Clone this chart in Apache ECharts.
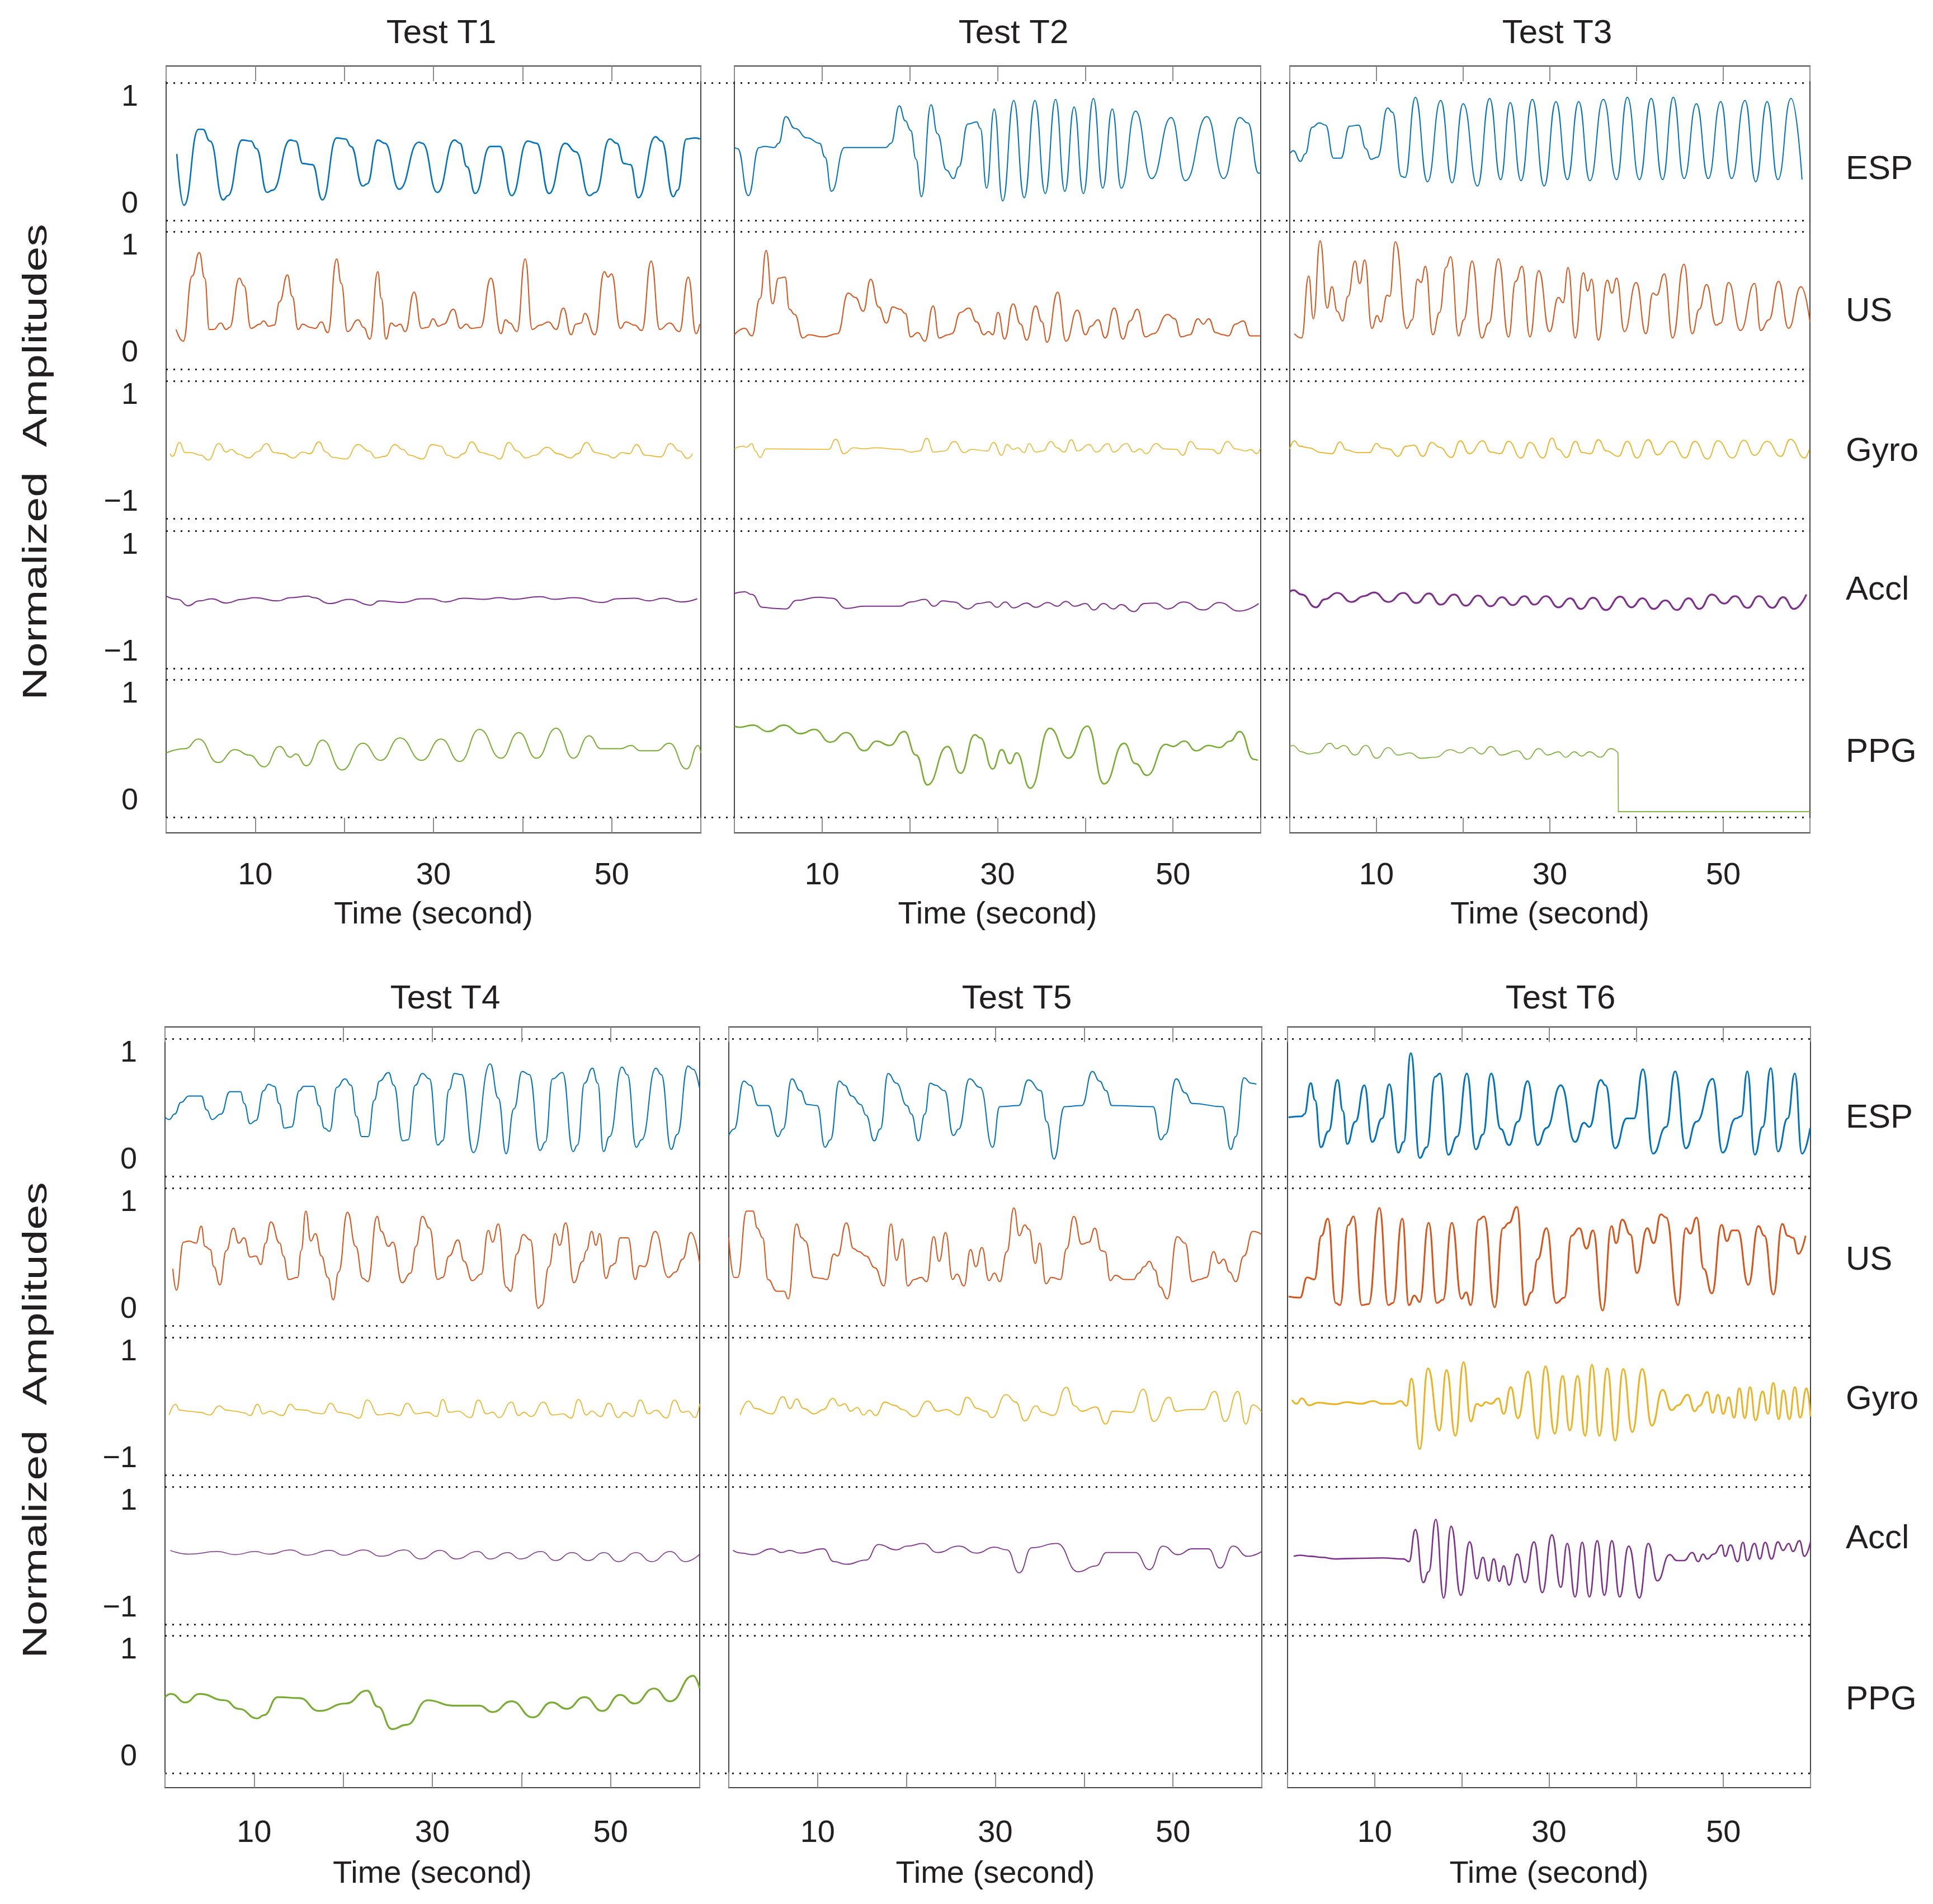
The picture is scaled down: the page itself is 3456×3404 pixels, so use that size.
<!DOCTYPE html>
<html>
<head>
<meta charset="utf-8">
<script src="https://cdn.jsdelivr.net/npm/echarts@6/dist/echarts.min.js"></script>
<style>
  html, body { margin: 0; padding: 0; background: #fff; }
  #chart { width: 3456px; height: 3404px; }
</style>
</head>
<body>
<div id="chart"></div>
<script>
// ---- data: [time (s), normalized amplitude] ----
const testNames = ['Test T1', 'Test T2', 'Test T3', 'Test T4', 'Test T5', 'Test T6'];
const signalNames = ['ESP', 'US', 'Gyro', 'Accl', 'PPG'];
const xTickLabels = [10, 30, 50];
const yTickLabels = [[0, 1], [0, 1], [-1, 1], [-1, 1], [0, 1]];

const T1_ESP = [[1.2,0.47],[2.0,-0.01],[3.64,0.70],[4.12,0.70],[4.93,0.59],[6.41,0.04],[6.93,0.08],[8.53,0.60],[9.53,0.59],[10.13,0.52],[11.33,0.11],[11.93,0.13],[13.94,0.60],[14.54,0.59],[15.34,0.38],[16.42,0.37],[17.54,0.04],[19.14,0.62],[20.14,0.61],[20.74,0.54],[22.07,0.17],[22.55,0.19],[23.75,0.60],[24.55,0.57],[26.15,0.14],[28.35,0.58],[28.75,0.57],[30.44,0.11],[32.36,0.60],[32.96,0.57],[33.76,0.35],[34.68,0.10],[36.36,0.54],[37.45,0.54],[38.77,0.08],[40.57,0.59],[41.57,0.57],[42.97,0.10],[44.77,0.57],[45.98,0.49],[47.5,0.08],[48.18,0.11],[49.78,0.61],[50.58,0.57],[51.38,0.38],[52.1,0.37],[52.98,0.06],[54.91,0.63],[55.59,0.59],[56.91,0.07],[57.39,0.13],[58.39,0.61],[59.39,0.62],[59.91,0.61]];
const T1_US = [[1.12,0.22],[1.92,0.11],[2.92,0.72],[3.72,0.94],[4.33,0.70],[4.85,0.22],[5.33,0.22],[6.13,0.28],[6.73,0.22],[7.13,0.24],[8.21,0.70],[8.73,0.63],[9.53,0.23],[10.53,0.27],[10.93,0.30],[11.53,0.25],[12.13,0.26],[12.74,0.48],[13.62,0.73],[14.14,0.53],[14.82,0.22],[15.34,0.27],[16.14,0.24],[16.74,0.23],[17.42,0.29],[18.14,0.19],[19.14,0.88],[19.66,0.65],[20.34,0.20],[21.55,0.31],[22.15,0.24],[22.87,0.13],[23.75,0.76],[24.15,0.51],[24.67,0.13],[25.27,0.28],[25.75,0.25],[26.27,0.27],[26.83,0.20],[27.83,0.57],[28.67,0.23],[29.36,0.24],[29.96,0.32],[30.56,0.25],[31.16,0.27],[32.24,0.41],[33.04,0.23],[33.68,0.27],[34.24,0.23],[35.28,0.24],[36.44,0.70],[37.57,0.18],[38.09,0.31],[38.57,0.28],[39.37,0.20],[40.29,0.88],[41.09,0.22],[41.97,0.26],[42.89,0.29],[43.77,0.22],[44.57,0.42],[45.45,0.17],[45.98,0.27],[46.58,0.28],[46.98,0.37],[48.1,0.17],[49.18,0.76],[49.58,0.71],[49.98,0.74],[50.98,0.23],[51.58,0.29],[52.58,0.26],[53.38,0.21],[54.43,0.86],[55.39,0.22],[56.51,0.28],[57.59,0.20],[58.59,0.71],[59.47,0.18],[59.87,0.27]];
const T1_GYRO = [[0.44,-0.09],[0.72,-0.14],[1.52,0.12],[2.12,-0.07],[2.72,-0.07],[3.92,-0.12],[4.73,-0.21],[5.93,0.10],[6.73,-0.06],[7.33,-0.01],[8.13,-0.10],[9.25,-0.17],[10.33,-0.05],[11.25,0.10],[12.13,-0.07],[13.14,-0.09],[14.22,-0.17],[15.34,-0.06],[16.14,-0.09],[17.14,0.13],[17.94,-0.06],[18.74,-0.16],[20.14,-0.19],[21.55,0.08],[22.75,-0.04],[23.55,-0.17],[24.55,-0.14],[25.67,0.08],[26.55,-0.01],[27.35,-0.12],[28.75,-0.19],[29.84,0.08],[30.84,0.05],[31.56,-0.12],[32.56,-0.17],[33.36,-0.09],[34.28,0.13],[35.36,-0.07],[36.56,-0.12],[37.45,-0.19],[38.45,0.12],[39.37,-0.04],[40.37,-0.17],[41.37,-0.12],[42.77,0.03],[43.97,-0.09],[45.38,-0.17],[46.18,-0.09],[47.18,0.12],[48.18,-0.07],[49.38,-0.11],[50.18,-0.17],[51.18,-0.07],[51.98,-0.09],[52.78,0.08],[53.78,-0.12],[55.47,-0.15],[56.59,0.10],[57.59,-0.04],[58.51,-0.18],[59.07,-0.09]];
const T1_ACCL = [[0,0.05],[1.32,-0.01],[2.44,-0.13],[3.72,-0.04],[5.13,0.0],[6.73,-0.08],[8.53,-0.01],[9.93,0.02],[12.54,-0.04],[13.94,0.02],[15.94,0.05],[16.54,0.02],[18.34,-0.09],[20.54,-0.01],[22.95,-0.12],[23.95,-0.04],[26.55,-0.07],[28.55,0.0],[29.76,0.0],[31.36,-0.06],[33.36,0.01],[35.76,-0.01],[37.36,0.02],[38.97,-0.01],[41.97,0.04],[43.57,-0.01],[45.78,0.02],[48.98,-0.07],[50.58,0.0],[52.58,0.01],[54.19,-0.04],[55.79,0.01],[57.79,-0.06],[59.59,0.0]];
const T1_PPG = [[0,0.45],[2.12,0.49],[3.64,0.58],[5.81,0.36],[7.73,0.48],[9.33,0.43],[11.01,0.32],[12.74,0.51],[13.94,0.41],[14.54,0.44],[15.74,0.33],[17.54,0.57],[19.74,0.29],[22.07,0.54],[24.07,0.38],[26.23,0.59],[28.67,0.38],[30.84,0.58],[32.96,0.37],[35.16,0.67],[37.57,0.40],[39.57,0.64],[41.57,0.40],[43.77,0.68],[45.7,0.40],[47.46,0.61],[48.78,0.49],[50.98,0.49],[52.18,0.52],[53.18,0.47],[54.99,0.47],[56.47,0.54],[58.39,0.30],[59.71,0.52],[60,0.45]];

const T2_ESP = [[0,0.53],[0.37,0.52],[1.59,0.08],[2.81,0.53],[3.42,0.54],[4.56,0.53],[5.04,0.57],[5.86,0.82],[6.88,0.71],[8.3,0.62],[9.72,0.57],[10.33,0.44],[11.07,0.12],[12.57,0.53],[13.18,0.53],[17.25,0.53],[17.86,0.57],[18.8,0.92],[19.49,0.78],[20.1,0.69],[20.71,0.42],[21.32,0.07],[22.42,0.93],[23.15,0.66],[24.17,0.32],[24.98,0.24],[25.59,0.35],[26.61,0.75],[27.62,0.77],[28.03,0.71],[28.76,0.15],[29.62,0.89],[30.59,0.03],[31.85,0.97],[33.04,0.06],[34.26,0.97],[35.44,0.10],[36.62,0.98],[37.67,0.12],[38.73,0.91],[39.79,0.10],[40.93,0.99],[41.99,0.15],[43.08,0.89],[44.1,0.15],[45.73,0.87],[47.56,0.24],[49.8,0.81],[51.42,0.22],[53.87,0.82],[55.78,0.24],[57.61,0.81],[58.54,0.76],[59.76,0.29],[60,0.29]];
const T2_US = [[0,0.17],[1.18,0.23],[1.99,0.16],[2.93,0.51],[3.62,0.96],[4.35,0.46],[5.04,0.70],[5.78,0.71],[6.27,0.41],[6.88,0.36],[7.81,0.14],[8.5,0.17],[10.13,0.15],[11.76,0.18],[12.98,0.56],[13.79,0.52],[14.69,0.39],[15.54,0.69],[16.44,0.43],[17.33,0.28],[18.06,0.43],[18.88,0.41],[19.49,0.37],[20.1,0.15],[20.91,0.19],[21.72,0.11],[22.66,0.44],[23.35,0.14],[24.37,0.17],[24.78,0.18],[25.79,0.38],[26.73,0.42],[27.62,0.29],[28.44,0.17],[28.97,0.20],[29.45,0.17],[30.06,0.38],[30.8,0.13],[31.77,0.46],[32.63,0.27],[33.32,0.12],[34.34,0.44],[35.07,0.29],[35.64,0.10],[36.86,0.57],[37.8,0.11],[39.1,0.40],[40.03,0.17],[40.64,0.25],[41.46,0.31],[42.27,0.14],[43.29,0.42],[44.3,0.13],[45.12,0.30],[45.93,0.41],[46.87,0.15],[47.76,0.18],[49.39,0.36],[50.2,0.32],[50.94,0.15],[51.91,0.17],[52.85,0.32],[53.46,0.27],[54.07,0.32],[54.88,0.19],[55.7,0.17],[56.31,0.16],[57.12,0.27],[58.01,0.30],[58.83,0.16],[59.97,0.16]];
const T2_GYRO = [[0,0.0],[0.98,0.05],[1.38,0.03],[1.99,0.10],[2.4,-0.04],[2.93,-0.16],[3.62,0.0],[4.64,0.0],[10.74,-0.01],[11.55,0.18],[12.49,-0.09],[13.59,0.02],[14.81,0.0],[16.03,0.02],[18.88,-0.01],[20.1,-0.06],[21.11,-0.04],[21.93,0.20],[22.74,-0.06],[23.96,-0.04],[25.06,0.14],[26.2,-0.07],[27.01,-0.01],[28.84,-0.04],[29.54,0.12],[30.47,-0.12],[31.08,0.08],[31.81,-0.01],[32.3,0.02],[33.04,-0.07],[33.6,0.10],[34.34,-0.06],[35.15,-0.04],[36.09,0.14],[36.78,0.02],[37.59,-0.06],[38.41,0.17],[39.14,-0.04],[40.44,0.08],[41.25,-0.06],[42.6,0.10],[43.21,-0.06],[44.71,0.10],[45.53,-0.06],[46.22,0.0],[46.95,-0.09],[48.09,0.10],[48.98,0.0],[50.41,-0.01],[51.1,-0.12],[52.03,0.14],[52.85,0.0],[54.47,-0.01],[55.17,-0.09],[56.22,0.14],[57.12,0.0],[58.34,-0.04],[58.83,-0.01],[59.56,-0.09],[59.97,0.02]];
const T2_ACCL = [[0,0.10],[1.18,0.13],[1.99,0.08],[3.21,-0.16],[4.64,-0.18],[5.86,-0.19],[7.08,-0.03],[9.52,0.03],[11.15,0.01],[12.77,-0.18],[14.81,-0.14],[18.88,-0.14],[20.1,-0.06],[21.73,-0.01],[22.74,-0.14],[23.76,-0.04],[24.98,-0.06],[26.61,-0.19],[27.83,-0.09],[29.05,-0.06],[29.94,-0.16],[30.88,-0.06],[31.81,-0.17],[33.32,-0.08],[34.34,-0.16],[35.76,-0.07],[36.78,-0.14],[37.79,-0.05],[38.81,-0.14],[40.03,-0.09],[40.97,-0.21],[42.07,-0.09],[43.21,-0.19],[44.1,-0.11],[45.53,-0.24],[46.75,-0.09],[47.97,-0.08],[49.39,-0.19],[51.22,-0.06],[53.46,-0.21],[55.29,-0.07],[57.53,-0.23],[59.76,-0.09]];
const T2_PPG = [[0,0.70],[0.57,0.69],[2.12,0.71],[3.82,0.65],[5.65,0.71],[7.57,0.63],[9.11,0.67],[10.94,0.55],[12.77,0.64],[14.81,0.47],[16.23,0.56],[17.66,0.52],[19.37,0.65],[20.71,0.43],[22.01,0.15],[24.29,0.51],[25.79,0.26],[27.42,0.62],[28.03,0.59],[29.45,0.30],[30.47,0.48],[31.41,0.35],[32.18,0.45],[33.73,0.12],[35.96,0.68],[38.08,0.40],[40.24,0.70],[42.15,0.16],[44.43,0.54],[45.73,0.35],[47.03,0.24],[49.19,0.53],[50.0,0.51],[51.3,0.56],[52.64,0.47],[54.07,0.52],[55.29,0.50],[56.51,0.56],[57.61,0.65],[59.23,0.39],[59.68,0.38]];

const T3_ESP = [[0.08,0.48],[0.41,0.50],[1.23,0.40],[1.77,0.47],[2.59,0.72],[3.42,0.76],[4.12,0.74],[5.06,0.43],[5.88,0.43],[6.91,0.73],[7.94,0.74],[8.77,0.52],[9.38,0.42],[10.12,0.44],[11.28,0.90],[11.85,0.86],[12.88,0.26],[13.29,0.25],[14.49,1.00],[15.88,0.21],[17.41,0.97],[18.72,0.20],[20.0,0.94],[21.65,0.17],[23.05,0.99],[24.32,0.23],[25.43,0.95],[26.67,0.22],[27.98,0.98],[29.34,0.17],[30.7,0.96],[32.02,0.23],[33.33,0.96],[34.61,0.22],[36.17,0.98],[37.7,0.23],[38.93,1.00],[40.33,0.23],[41.69,0.99],[43.0,0.23],[44.24,1.00],[45.47,0.24],[46.91,0.94],[48.27,0.24],[49.71,0.96],[50.95,0.24],[52.51,0.97],[53.74,0.21],[55.06,0.96],[56.3,0.23],[57.82,0.99],[59.09,0.23]];
const T3_US = [[0.53,0.18],[1.36,0.14],[2.18,0.72],[2.72,0.32],[3.5,1.05],[4.32,0.42],[4.86,0.62],[5.47,0.39],[6.09,0.30],[6.71,0.53],[7.53,0.86],[8.07,0.65],[8.64,0.87],[9.47,0.23],[10.08,0.35],[10.49,0.29],[11.23,0.54],[11.52,0.53],[12.18,1.04],[13.5,0.23],[14.12,0.31],[14.73,0.69],[15.14,0.66],[15.64,0.81],[16.5,0.17],[17.28,0.38],[18.02,0.80],[18.56,0.90],[19.47,0.16],[20.08,0.31],[21.03,0.86],[22.14,0.14],[22.96,0.28],[24.07,0.88],[25.23,0.15],[26.05,0.67],[26.79,0.81],[27.7,0.15],[28.72,0.77],[29.96,0.20],[30.99,0.52],[31.52,0.47],[32.1,0.80],[32.92,0.14],[33.87,0.75],[34.36,0.58],[34.81,0.69],[35.6,0.12],[36.63,0.68],[37.16,0.56],[37.7,0.70],[38.6,0.20],[39.96,0.66],[41.07,0.18],[41.89,0.56],[42.3,0.54],[43.21,0.74],[44.16,0.14],[45.47,0.83],[46.42,0.18],[47.24,0.41],[48.07,0.64],[49.18,0.26],[49.71,0.28],[50.62,0.66],[51.98,0.21],[53.62,0.65],[54.32,0.21],[55.27,0.31],[56.38,0.67],[57.53,0.23],[58.97,0.62],[60,0.29]];
const T3_GYRO = [[0,0.0],[0.53,0.15],[1.15,0.05],[2.18,0.02],[3.62,-0.07],[4.86,-0.09],[5.8,0.13],[6.5,-0.02],[7.74,-0.07],[9.18,-0.07],[10.0,0.10],[10.62,0.02],[11.44,0.0],[12.47,-0.14],[13.42,0.05],[14.32,0.07],[15.35,-0.14],[16.38,0.12],[17.28,0.03],[18.64,-0.16],[19.67,0.15],[20.7,-0.09],[22.26,0.15],[23.17,-0.06],[24.28,-0.09],[25.23,0.14],[26.67,-0.17],[27.7,0.12],[29.22,-0.17],[30.25,0.20],[30.99,-0.01],[31.93,-0.16],[32.96,0.14],[33.74,-0.07],[34.69,-0.09],[35.6,0.17],[36.54,-0.04],[37.9,-0.14],[38.93,0.14],[40.04,-0.17],[41.36,0.17],[42.39,-0.11],[44.07,0.14],[45.6,-0.17],[46.71,0.14],[48.19,-0.19],[49.38,0.15],[51.07,-0.17],[52.39,0.16],[53.62,-0.12],[55.06,0.14],[56.63,-0.14],[57.74,0.18],[59.38,-0.17],[59.92,-0.01]];
const T3_ACCL = [[0,0.13],[0.41,0.16],[1.36,0.08],[3.0,-0.16],[4.03,-0.01],[5.47,0.11],[7.12,-0.06],[8.56,0.05],[9.71,0.12],[11.36,-0.06],[13.09,0.11],[14.61,-0.08],[16.05,0.10],[17.41,-0.11],[18.97,0.08],[20.29,-0.13],[21.73,0.06],[23.17,-0.14],[24.49,0.03],[25.72,-0.12],[27.08,0.05],[28.19,-0.11],[29.55,0.05],[30.99,-0.16],[32.35,0.01],[33.58,-0.19],[34.98,0.02],[36.46,-0.21],[38.11,0.04],[39.42,-0.16],[40.66,0.01],[41.98,-0.19],[43.33,-0.03],[44.65,-0.21],[46.01,0.01],[47.24,-0.19],[48.68,0.08],[50.12,-0.09],[51.36,0.05],[52.8,-0.17],[54.12,0.05],[55.68,-0.17],[56.91,0.03],[58.15,-0.19],[59.59,0.08]];
const T3_PPG = [[0,0.51],[0.33,0.52],[1.36,0.46],[2.18,0.44],[3.13,0.45],[4.65,0.54],[5.39,0.49],[6.21,0.52],[7.53,0.43],[8.77,0.52],[10.0,0.40],[11.36,0.50],[12.47,0.43],[13.83,0.45],[15.14,0.40],[16.79,0.41],[18.52,0.48],[19.67,0.45],[20.91,0.50],[22.14,0.44],[23.17,0.51],[24.4,0.43],[26.26,0.47],[27.41,0.39],[28.72,0.49],[29.75,0.43],[30.99,0.46],[31.81,0.41],[32.84,0.46],[33.66,0.42],[34.57,0.46],[35.8,0.41],[37.04,0.49],[37.86,0.45]];
const T3_PPG_TAIL = [[37.86,0.45],[37.9,-0.10],[60,-0.10]];

const T4_ESP = [[0,0.40],[0.48,0.38],[1.08,0.43],[1.8,0.54],[2.68,0.60],[4.08,0.60],[4.68,0.47],[5.28,0.38],[6.28,0.43],[7.28,0.64],[8.48,0.64],[8.88,0.53],[9.56,0.34],[10.2,0.37],[11.08,0.65],[11.6,0.71],[12.28,0.69],[12.8,0.53],[13.4,0.30],[14.2,0.31],[15.08,0.65],[15.56,0.69],[16.68,0.69],[17.28,0.51],[17.88,0.30],[18.48,0.27],[19.28,0.68],[20.2,0.76],[20.88,0.70],[21.48,0.41],[22.08,0.22],[22.8,0.22],[23.48,0.56],[24.08,0.74],[25.08,0.82],[25.68,0.70],[26.68,0.18],[27.28,0.19],[28.08,0.70],[28.88,0.81],[29.68,0.76],[30.6,0.14],[31.16,0.18],[31.88,0.66],[32.48,0.81],[33.28,0.80],[34.6,0.07],[36.48,0.90],[37.4,0.58],[38.28,0.06],[39.16,0.48],[40.08,0.83],[40.88,0.80],[42.08,0.09],[42.68,0.17],[43.48,0.76],[44.6,0.82],[45.8,0.08],[46.28,0.14],[47.08,0.72],[47.96,0.86],[48.56,0.72],[49.2,0.08],[49.88,0.22],[51.28,0.87],[51.88,0.80],[52.88,0.12],[53.48,0.19],[55.08,0.86],[55.68,0.80],[56.8,0.10],[57.48,0.24],[58.68,0.88],[59.28,0.85],[59.96,0.68]];
const T4_US = [[0.88,0.38],[1.28,0.18],[2.08,0.63],[2.68,0.64],[3.48,0.62],[4.08,0.78],[4.48,0.59],[5.08,0.56],[5.48,0.40],[6.16,0.23],[6.88,0.55],[7.68,0.76],[8.28,0.62],[8.88,0.67],[9.56,0.49],[10.2,0.50],[10.76,0.42],[11.28,0.62],[11.88,0.82],[12.88,0.62],[13.28,0.50],[13.88,0.28],[14.88,0.30],[15.28,0.55],[15.8,0.92],[16.36,0.64],[16.88,0.71],[17.56,0.50],[18.28,0.30],[18.88,0.09],[19.48,0.35],[20.48,0.91],[21.4,0.59],[22.2,0.29],[22.76,0.26],[23.8,0.87],[24.28,0.73],[25.08,0.59],[25.56,0.63],[26.6,0.25],[27.56,0.34],[28.16,0.59],[28.88,0.87],[29.68,0.76],[30.6,0.28],[31.16,0.30],[31.88,0.50],[32.88,0.65],[33.56,0.45],[34.48,0.27],[35.48,0.33],[36.28,0.74],[36.76,0.63],[37.4,0.80],[38.28,0.21],[38.8,0.17],[39.48,0.52],[40.2,0.70],[41.0,0.65],[41.88,0.01],[42.28,0.04],[43.08,0.40],[43.8,0.71],[44.28,0.60],[44.96,0.81],[45.88,0.25],[46.88,0.45],[47.28,0.55],[47.88,0.73],[48.36,0.60],[48.76,0.71],[49.48,0.29],[50.08,0.41],[50.48,0.43],[51.08,0.67],[51.96,0.67],[52.76,0.28],[53.28,0.41],[53.8,0.40],[55.0,0.73],[56.48,0.30],[57.28,0.35],[58.08,0.47],[59.0,0.72],[60,0.43]];
const T4_GYRO = [[0.48,-0.18],[1.16,0.02],[1.68,-0.09],[2.68,-0.11],[3.88,-0.13],[5.0,-0.18],[6.08,-0.01],[6.88,-0.09],[7.88,-0.11],[8.88,-0.14],[9.56,-0.19],[10.4,0.02],[11.0,-0.16],[11.8,-0.11],[13.16,-0.19],[14.08,0.02],[14.76,-0.08],[15.88,-0.09],[16.68,-0.14],[17.68,-0.16],[18.6,0.04],[19.48,-0.13],[20.48,-0.16],[21.8,-0.24],[22.68,0.10],[23.96,-0.18],[25.28,-0.15],[26.28,-0.19],[27.16,0.04],[28.2,-0.16],[29.48,-0.13],[30.48,-0.21],[31.16,0.11],[31.88,-0.13],[32.88,-0.11],[34.28,-0.23],[35.16,0.10],[36.08,-0.16],[36.76,-0.13],[37.48,-0.23],[38.88,0.06],[39.68,-0.19],[40.28,-0.13],[41.08,-0.21],[42.48,0.06],[43.48,-0.18],[44.68,-0.16],[45.56,-0.24],[46.4,0.11],[47.28,-0.18],[47.88,-0.11],[48.88,-0.21],[49.8,0.04],[50.88,-0.23],[51.56,-0.13],[52.48,-0.21],[53.32,0.10],[54.28,-0.16],[55.08,-0.09],[56.28,-0.24],[57.16,0.10],[58.08,-0.13],[58.68,-0.11],[59.48,-0.23],[60,0.03]];
const T4_ACCL = [[0.6,0.08],[2.68,0.01],[5.88,0.06],[7.88,0.0],[10.08,0.06],[11.68,0.01],[14.08,0.09],[15.88,-0.01],[18.48,0.08],[20.08,-0.01],[22.28,0.09],[24.28,-0.03],[26.88,0.09],[28.68,-0.08],[30.88,0.08],[32.68,-0.08],[35.08,0.06],[36.48,-0.08],[38.48,0.04],[39.88,-0.08],[42.2,0.06],[43.8,-0.11],[45.68,0.04],[47.48,-0.11],[49.28,0.04],[50.88,-0.13],[52.88,0.04],[54.6,-0.13],[56.68,0.06],[58.4,-0.13],[60,0.01]];
const T4_PPG = [[0,0.56],[0.68,0.59],[2.28,0.51],[3.88,0.59],[6.68,0.53],[8.28,0.45],[10.36,0.36],[11.08,0.39],[12.68,0.56],[15.08,0.55],[17.28,0.43],[20.28,0.50],[22.68,0.62],[23.88,0.47],[25.48,0.26],[27.08,0.30],[29.48,0.53],[32.28,0.48],[35.28,0.48],[36.76,0.42],[38.88,0.52],[41.28,0.37],[43.4,0.51],[45.08,0.45],[47.08,0.56],[49.08,0.43],[51.08,0.58],[52.68,0.50],[54.88,0.64],[56.68,0.52],[59.28,0.76],[60,0.64]];

const T5_ESP = [[0,0.23],[0.6,0.29],[1.69,0.74],[2.41,0.70],[3.33,0.51],[4.41,0.51],[5.54,0.22],[6.1,0.29],[7.1,0.76],[8.03,0.65],[8.83,0.52],[9.95,0.51],[10.83,0.12],[11.44,0.19],[12.44,0.74],[13.04,0.70],[13.84,0.60],[14.85,0.52],[15.45,0.42],[16.37,0.18],[17.05,0.29],[17.94,0.81],[18.86,0.72],[20.06,0.51],[20.55,0.43],[21.35,0.18],[22.07,0.43],[22.67,0.72],[23.27,0.70],[24.28,0.65],[25.28,0.23],[25.88,0.29],[27.09,0.76],[28.29,0.68],[29.7,0.12],[30.5,0.50],[32.62,0.51],[33.71,0.75],[35.11,0.65],[35.79,0.36],[36.6,0.01],[37.8,0.50],[39.73,0.51],[40.93,0.83],[41.73,0.74],[42.46,0.65],[43.14,0.51],[47.75,0.50],[48.64,0.19],[49.16,0.24],[50.36,0.76],[51.36,0.63],[52.17,0.53],[55.58,0.50],[56.5,0.10],[57.06,0.22],[57.99,0.77],[58.79,0.72],[59.39,0.71]];
const T5_US = [[0,0.67],[0.6,0.30],[1.0,0.30],[2.01,0.92],[2.73,0.92],[3.21,0.76],[3.81,0.67],[4.41,0.28],[5.42,0.17],[6.22,0.17],[6.7,0.10],[7.62,0.80],[8.23,0.67],[8.63,0.64],[9.55,0.30],[10.43,0.29],[11.04,0.28],[11.84,0.52],[12.24,0.50],[13.24,0.81],[14.04,0.57],[14.65,0.54],[15.45,0.50],[16.45,0.39],[17.46,0.22],[18.26,0.80],[18.86,0.46],[19.54,0.66],[20.14,0.22],[20.87,0.28],[21.67,0.30],[22.27,0.26],[23.07,0.68],[23.68,0.45],[24.4,0.72],[25.2,0.28],[25.68,0.33],[26.48,0.22],[27.21,0.56],[27.81,0.40],[28.49,0.58],[29.29,0.27],[29.9,0.34],[30.5,0.26],[31.3,0.54],[32.1,0.95],[32.7,0.69],[33.31,0.79],[33.79,0.75],[34.51,0.43],[34.99,0.62],[35.71,0.24],[36.32,0.30],[37.32,0.28],[38.04,0.57],[38.84,0.87],[39.73,0.61],[40.53,0.63],[41.21,0.76],[41.93,0.55],[42.34,0.54],[42.94,0.27],[43.54,0.32],[44.54,0.28],[45.55,0.28],[46.15,0.34],[46.75,0.40],[47.35,0.45],[47.95,0.37],[48.56,0.21],[49.36,0.10],[50.48,0.68],[51.36,0.62],[52.17,0.26],[52.97,0.28],[53.77,0.30],[54.57,0.54],[55.18,0.43],[55.7,0.47],[56.38,0.35],[57.06,0.26],[57.99,0.50],[58.99,0.73],[60,0.70]];
const T5_GYRO = [[1.28,-0.18],[2.21,0.08],[3.01,-0.06],[4.82,-0.16],[6.1,0.16],[6.9,-0.06],[7.62,0.12],[8.43,-0.06],[9.63,-0.16],[10.63,-0.08],[11.72,0.13],[12.44,-0.01],[13.04,0.03],[13.72,-0.11],[14.45,-0.04],[15.17,-0.18],[15.85,-0.09],[16.53,-0.19],[17.58,0.06],[18.66,0.0],[19.58,-0.08],[20.87,-0.21],[22.39,0.08],[23.48,-0.11],[24.48,-0.08],[25.88,-0.18],[26.81,0.15],[28.01,-0.06],[28.89,-0.11],[29.61,-0.23],[31.22,0.20],[32.3,0.06],[33.31,-0.29],[34.59,-0.01],[35.31,-0.13],[36.52,-0.19],[38.0,0.34],[38.92,-0.01],[39.73,-0.11],[41.33,-0.03],[42.42,-0.35],[43.26,-0.11],[45.35,-0.13],[46.67,0.30],[47.83,-0.30],[49.56,0.15],[50.36,-0.11],[51.77,-0.08],[53.37,-0.08],[54.69,0.26],[55.86,-0.30],[57.3,0.26],[58.19,-0.35],[58.99,0.01],[59.99,-0.13]];
const T5_ACCL = [[0.48,0.08],[1.4,0.03],[2.73,0.0],[4.82,0.11],[5.94,0.04],[6.82,0.08],[8.03,0.03],[10.63,0.11],[11.84,-0.13],[13.24,-0.18],[15.45,-0.10],[16.85,0.19],[18.86,0.09],[20.06,0.16],[21.87,0.21],[23.48,0.04],[25.88,0.16],[27.89,0.03],[29.9,0.14],[31.3,0.09],[32.7,-0.34],[34.11,0.13],[36.92,0.21],[39.33,-0.32],[41.33,-0.21],[42.54,0.04],[45.75,0.04],[47.35,-0.28],[48.88,0.16],[50.56,0.0],[52.17,0.11],[53.97,0.11],[55.3,-0.25],[56.78,0.16],[58.39,-0.03],[59.99,0.06]];

const T6_ESP = [[0.12,0.40],[1.64,0.41],[1.93,0.43],[2.66,0.72],[3.16,0.56],[3.81,0.12],[4.71,0.27],[5.74,0.75],[6.35,0.46],[6.84,0.15],[7.79,0.36],[8.81,0.70],[9.71,0.17],[10.86,0.39],[11.68,0.71],[12.7,0.07],[13.32,0.17],[14.14,1.00],[15.16,0.02],[15.98,0.12],[16.93,0.78],[17.5,0.81],[18.44,0.05],[19.47,0.22],[20.57,0.81],[21.6,0.10],[22.42,0.24],[23.36,0.81],[24.47,0.29],[25.41,0.14],[26.43,0.36],[27.54,0.74],[28.69,0.14],[29.71,0.30],[31.35,0.70],[32.99,0.17],[34.02,0.35],[34.63,0.31],[35.94,0.75],[36.48,0.70],[37.58,0.11],[38.93,0.39],[39.75,0.39],[40.78,0.85],[41.93,0.06],[43.44,0.31],[44.47,0.83],[45.7,0.11],[46.93,0.36],[48.77,0.76],[49.92,0.07],[51.43,0.39],[52.05,0.41],[52.75,0.83],[53.61,0.05],[54.51,0.31],[55.45,0.86],[56.27,0.08],[57.38,0.39],[58.2,0.81],[59.02,0.06],[59.96,0.30]];
const T6_US = [[0.12,0.12],[1.43,0.11],[2.25,0.30],[3.07,0.28],[3.89,0.69],[4.63,0.85],[5.53,0.06],[6.02,0.04],[6.97,0.79],[7.58,0.87],[8.52,0.04],[9.3,0.05],[10.53,0.95],[11.56,0.04],[12.09,0.06],[13.16,0.85],[13.93,0.04],[14.55,0.13],[15.16,0.07],[16.19,0.81],[17.13,0.06],[17.83,0.09],[18.85,0.81],[19.96,0.10],[20.49,0.16],[21.02,0.04],[21.93,0.84],[22.54,0.87],[23.77,0.02],[24.71,0.76],[25.41,0.81],[26.31,0.96],[27.25,0.04],[27.99,0.16],[28.69,0.47],[29.71,0.76],[30.82,0.06],[31.76,0.11],[32.58,0.69],[33.48,0.76],[34.3,0.57],[35.04,0.74],[36.15,-0.01],[37.17,0.78],[37.7,0.62],[38.4,0.84],[39.34,0.70],[40.08,0.34],[41.27,0.76],[42.01,0.62],[42.83,0.89],[43.44,0.86],[44.8,0.04],[45.7,0.76],[46.19,0.71],[46.93,0.86],[47.75,0.38],[48.69,0.15],[49.8,0.79],[50.41,0.64],[51.02,0.74],[51.64,0.74],[52.87,0.23],[54.02,0.78],[54.71,0.69],[55.74,0.14],[56.76,0.80],[57.38,0.69],[57.99,0.67],[58.61,0.52],[59.43,0.69]];
const T6_GYRO = [[0.53,0.10],[1.02,0.03],[1.64,0.13],[2.46,0.0],[3.48,0.05],[5.53,0.02],[6.76,0.06],[8.4,0.03],[9.84,0.08],[10.86,0.03],[12.09,0.03],[12.99,0.08],[13.65,-0.01],[14.22,0.50],[15.16,-0.82],[16.11,0.69],[17.42,-0.47],[18.24,0.66],[19.26,-0.57],[20.2,0.81],[21.02,-0.30],[21.72,0.03],[22.25,-0.01],[22.75,0.06],[23.36,0.03],[24.18,0.13],[24.8,-0.16],[25.61,0.34],[26.43,-0.24],[27.58,0.63],[28.69,-0.62],[29.59,0.73],[30.66,-0.53],[31.56,0.55],[32.38,-0.47],[33.28,0.55],[34.14,-0.57],[34.92,0.76],[35.78,-0.57],[36.68,0.69],[37.58,-0.66],[38.52,0.68],[39.55,-0.50],[40.7,0.68],[41.8,-0.38],[43.03,0.29],[44.06,-0.09],[44.8,0.0],[45.9,0.20],[46.72,-0.11],[47.25,-0.01],[48.16,0.25],[48.77,-0.14],[49.39,0.20],[50.0,-0.16],[50.61,0.15],[51.23,-0.23],[51.84,0.32],[52.46,-0.24],[53.07,0.34],[53.69,-0.28],[54.51,0.26],[55.12,-0.16],[55.74,0.42],[56.35,-0.26],[56.89,0.28],[57.58,-0.26],[58.2,0.34],[58.81,-0.23],[59.55,0.32],[60,-0.21]];
const T6_ACCL = [[0.7,-0.03],[1.43,-0.01],[2.66,-0.03],[3.89,-0.05],[5.53,-0.08],[7.58,-0.07],[10.86,-0.06],[13.32,-0.08],[13.93,-0.13],[14.67,0.47],[15.57,-0.52],[16.19,-0.32],[17.01,0.66],[17.91,-0.81],[18.77,0.53],[19.88,-0.76],[20.9,0.24],[21.72,-0.45],[22.42,-0.05],[23.07,-0.49],[23.65,-0.08],[24.3,-0.50],[24.8,-0.21],[25.41,-0.57],[26.35,0.01],[27.25,-0.52],[28.28,0.24],[29.22,-0.71],[30.33,0.37],[31.35,-0.61],[32.09,0.21],[32.99,-0.79],[33.81,0.23],[34.63,-0.79],[35.53,0.26],[36.35,-0.76],[37.21,0.26],[38.11,-0.79],[39.14,0.16],[40.37,-0.81],[41.39,0.21],[42.42,-0.49],[43.85,0.0],[44.67,-0.11],[45.49,-0.11],[46.43,0.04],[47.13,-0.13],[47.66,0.01],[48.16,-0.08],[48.89,0.01],[49.8,0.18],[50.2,-0.03],[50.82,0.18],[51.64,-0.13],[52.25,0.23],[52.75,-0.11],[53.57,0.21],[54.18,-0.08],[54.8,0.23],[55.53,-0.08],[56.27,0.24],[56.84,0.08],[57.5,0.21],[57.99,0.06],[58.73,0.26],[59.3,-0.03],[60,0.24]];

const panelData = [
  [T1_ESP, T1_US, T1_GYRO, T1_ACCL, T1_PPG],
  [T2_ESP, T2_US, T2_GYRO, T2_ACCL, T2_PPG],
  [T3_ESP, T3_US, T3_GYRO, T3_ACCL, T3_PPG],
  [T4_ESP, T4_US, T4_GYRO, T4_ACCL, T4_PPG],
  [T5_ESP, T5_US, T5_GYRO, T5_ACCL, null],
  [T6_ESP, T6_US, T6_GYRO, T6_ACCL, null]
];

// ---- layout and style ----
const colors = ['#0072BD', '#D95319', '#EDB120', '#7E2F8E', '#77AC30'];
const lineWidths = [
  [2.6, 2, 1.6, 2, 2],
  [2, 2, 1.5, 2, 2.6],
  [2, 2, 1.8, 3.2, 1.6],
  [2, 2, 1.6, 1.5, 3.2],
  [2, 2, 1.8, 1.8, 0],
  [3, 3, 3, 2.6, 0]
];
const panelX = [[297, 1253], [1313, 2254], [2306, 3236], [295, 1251], [1303, 2256], [2302, 3237]];
const rowFrame = [[118, 1489], [1836, 3196]];
const rowBandTop = [[148, 414, 681, 949, 1215], [1857, 2124, 2391, 2658, 2924]];
const bandH = 246;
const rowLabelMargin = [49, 54];
const rowNameGap = [119, 127];
const rowRightLabelY = [[303, 557, 807, 1055, 1345], [1999, 2253, 2502, 2751, 3039]];
const titleX = [789, 1812, 2784, 796, 1818, 2790];
const rowTitleY = [60, 1786];
const rowYNameY = [826, 2539];
const FONT = '"Liberation Sans", Arial, Helvetica, sans-serif';
const TEXT = '#231f20';

// axis extents so that the 1 / 0 (or 1 / -1) labels sit where they do in the figure
function yRange(k) {
  const lo = yTickLabels[k][0];
  const unit = (bandH - 55) / (1 - lo);
  return { min: lo - 29 / unit, max: 1 + 26 / unit };
}

const grids = [], xAxes = [], yAxes = [], series = [], graphics = [];

function addGrid(g, xa, ya) {
  grids.push(g);
  const gi = grids.length - 1;
  const xs = [].concat(xa), ys = [].concat(ya);
  const xi = [], yi = [];
  xs.forEach(a => { a.gridIndex = gi; xAxes.push(a); xi.push(xAxes.length - 1); });
  ys.forEach(a => { a.gridIndex = gi; yAxes.push(a); yi.push(yAxes.length - 1); });
  return { x: xi[0], y: yi[0] };
}

// dotted band limits running across each row of panels
for (let r = 0; r < 2; r++) {
  const left = panelX[r * 3][0], right = panelX[r * 3 + 2][1];
  for (let k = 0; k < 5; k++) {
    addGrid(
      { left: left, top: rowBandTop[r][k], width: right - left, height: bandH, containLabel: false },
      { type: 'value', min: 0, max: 60, show: false },
      {
        type: 'value', min: 0, max: 1, interval: 1,
        axisLine: { show: false }, axisTick: { show: false }, axisLabel: { show: false },
        splitLine: { show: true, lineStyle: { color: '#222', width: 3, type: [3, 10] } }
      }
    );
  }
}

// panel frames with time axes
for (let p = 0; p < 6; p++) {
  const r = p < 3 ? 0 : 1;
  const [l, rr] = panelX[p];
  const [top, bottom] = rowFrame[r];
  const tick = { show: true, inside: true, length: 27, lineStyle: { color: '#8a8a8a', width: 2 } };
  addGrid(
    { left: l, top: top, width: rr - l, height: bottom - top, show: true, borderColor: '#444', borderWidth: 2, containLabel: false },
    [
      {
        type: 'value', min: 0, max: 60, interval: 10, position: 'bottom',
        axisLine: { show: false }, axisTick: tick, splitLine: { show: false },
        axisLabel: {
          fontSize: 56, fontFamily: FONT, color: TEXT, margin: rowLabelMargin[r],
          formatter: v => (xTickLabels.indexOf(v) >= 0 ? String(v) : '')
        },
        name: 'Time (second)', nameLocation: 'middle', nameGap: rowNameGap[r],
        nameTextStyle: { fontSize: 56, fontFamily: FONT, color: TEXT }
      },
      {
        type: 'value', min: 0, max: 60, interval: 10, position: 'top',
        axisLine: { show: false }, axisTick: tick, axisLabel: { show: false }, splitLine: { show: false }
      }
    ],
    { type: 'value', min: 0, max: 1, show: false }
  );
}

// one small grid per signal band
for (let p = 0; p < 6; p++) {
  const r = p < 3 ? 0 : 1;
  const [l, rr] = panelX[p];
  const first = (p % 3 === 0);
  for (let k = 0; k < 5; k++) {
    const ext = yRange(k);
    const idx = addGrid(
      { left: l, top: rowBandTop[r][k], width: rr - l, height: bandH, containLabel: false },
      { type: 'value', min: 0, max: 60, show: false },
      {
        type: 'value', min: ext.min, max: ext.max, show: first,
        axisLine: { show: false }, axisTick: { show: false }, splitLine: { show: false },
        axisLabel: {
          show: first, customValues: yTickLabels[k], margin: 50,
          fontSize: 54, fontFamily: FONT, color: TEXT,
          formatter: v => (v < 0 ? '\u2212' + Math.abs(v) : String(v))
        }
      }
    );
    const data = panelData[p][k];
    if (!data) continue;
    const base = {
      type: 'line', xAxisIndex: idx.x, yAxisIndex: idx.y,
      showSymbol: false, symbol: 'none', silent: true, animation: false,
      lineStyle: { color: colors[k], width: lineWidths[p][k] }
    };
    series.push(Object.assign({}, base, { data: data, smooth: 0.5, smoothMonotone: 'x' }));
    if (p === 2 && k === 4) {
      series.push(Object.assign({}, base, { data: T3_PPG_TAIL, smooth: false }));
    }
  }
}

// titles, signal names and the shared y label
for (let p = 0; p < 6; p++) {
  const r = p < 3 ? 0 : 1;
  graphics.push({
    type: 'text', x: titleX[p], y: rowTitleY[r], silent: true,
    style: { text: testNames[p], font: '60px ' + FONT, fill: TEXT, textAlign: 'center', textVerticalAlign: 'middle' }
  });
}
for (let r = 0; r < 2; r++) {
  for (let k = 0; k < 5; k++) {
    graphics.push({
      type: 'text', x: 3300, y: rowRightLabelY[r][k], silent: true,
      style: { text: signalNames[k], font: '60px ' + FONT, fill: TEXT, textAlign: 'left', textVerticalAlign: 'middle' }
    });
  }
  // the figure's label is letter-spaced; stretch along the text to cover the same length
  graphics.push({
    type: 'text', x: 66, y: rowYNameY[r], rotation: Math.PI / 2, scaleX: 1.3, silent: true,
    style: { text: 'Normalized  Amplitudes', font: '62px ' + FONT, fill: TEXT, textAlign: 'center', textVerticalAlign: 'middle' }
  });
}

const chart = echarts.init(document.getElementById('chart'), null, { renderer: 'canvas' });
chart.setOption({
  backgroundColor: '#ffffff',
  animation: false,
  grid: grids,
  xAxis: xAxes,
  yAxis: yAxes,
  series: series,
  graphic: graphics
});
</script>
</body>
</html>
